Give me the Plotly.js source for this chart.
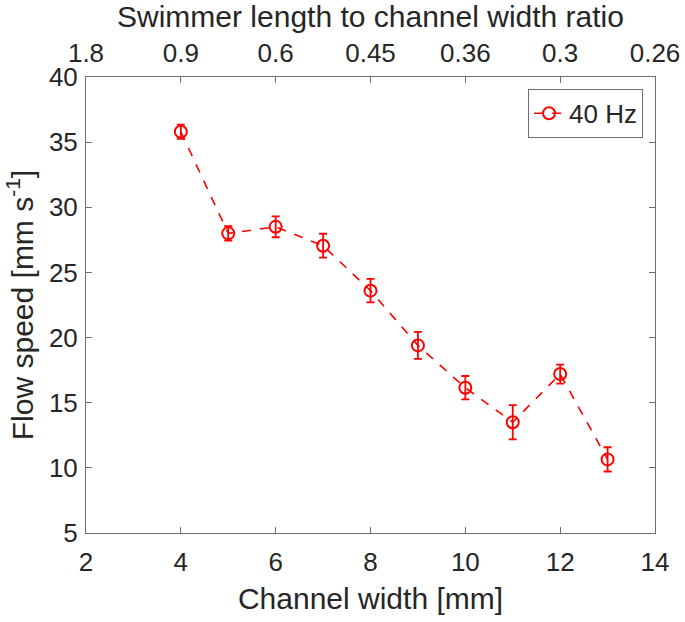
<!DOCTYPE html>
<html>
<head>
<script src="https://cdn.plot.ly/plotly-3.0.1.min.js"></script>
<style>body{margin:0;background:#fff}#chart{width:685px;height:622px}</style>
</head>
<body>
<div id="chart"></div>
<script>
const channelWidth = [4, 5, 6, 7, 8, 9, 10, 11, 12, 13];
const flowSpeed = [35.8, 28.0, 28.5, 27.05, 23.6, 19.4, 16.15, 13.5, 17.2, 10.65];
const flowErr = [0.55, 0.55, 0.8, 0.92, 0.9, 1.04, 0.9, 1.32, 0.73, 0.93];
const topTickVals = [2, 4, 6, 8, 10, 12, 14];
const topTickText = ['1.8', '0.9', '0.6', '0.45', '0.36', '0.3', '0.26'];
const seriesName = '40 Hz';

const red = '#ff0000';
const textColor = '#262626';
const axisColor = '#6e6e6e';
const fontFam = '"Liberation Sans", Arial, Helvetica, sans-serif';
const tickSize = 26;
const titleSize = 30;

const traces = [{
  x: channelWidth,
  y: flowSpeed,
  name: seriesName,
  type: 'scatter',
  mode: 'lines+markers',
  line: {color: red, width: 1.6, dash: 'dash'},
  marker: {symbol: 'circle-open', size: 12, color: red, line: {color: red, width: 2}},
  error_y: {type: 'data', array: flowErr, visible: true, color: red, thickness: 1.8, width: 4},
  xaxis: 'x', yaxis: 'y'
}, {
  x: topTickVals,
  y: topTickVals.map(() => null),
  xaxis: 'x2', yaxis: 'y',
  showlegend: false, hoverinfo: 'skip', mode: 'markers'
}];

const layout = {
  width: 685, height: 622,
  margin: {l: 86, r: 30, t: 77, b: 89},
  paper_bgcolor: '#fff', plot_bgcolor: '#fff',
  font: {family: fontFam, color: textColor, size: tickSize},
  showlegend: true,
  legend: {
    x: 0.979, y: 0.974, xanchor: 'right', yanchor: 'top',
    bgcolor: '#fff', bordercolor: axisColor, borderwidth: 1,
    font: {size: tickSize, color: textColor, family: fontFam},
    itemwidth: 30, tracegroupgap: 0
  },
  xaxis: {
    range: [2, 14], tickvals: [2, 4, 6, 8, 10, 12, 14],
    ticks: 'inside', ticklen: 6, tickcolor: axisColor, tickwidth: 1,
    showline: true, linecolor: axisColor, linewidth: 1, mirror: false,
    showgrid: false, zeroline: false, ticklabelstandoff: 6,
    tickfont: {size: tickSize, color: textColor},
    title: {text: 'Channel width [mm]', font: {size: titleSize, color: textColor}, standoff: 11}
  },
  xaxis2: {
    overlaying: 'x', side: 'top', anchor: 'y', matches: 'x',
    range: [2, 14], tickvals: topTickVals, ticktext: topTickText, tickmode: 'array',
    ticks: 'inside', ticklen: 6, tickcolor: axisColor, tickwidth: 1,
    showline: true, linecolor: axisColor, linewidth: 1,
    showgrid: false, zeroline: false, ticklabelstandoff: 4,
    tickfont: {size: tickSize, color: textColor},
    title: {text: 'Swimmer length to channel width ratio', font: {size: titleSize, color: textColor}, standoff: 7}
  },
  yaxis: {
    range: [5, 40], tickvals: [5, 10, 15, 20, 25, 30, 35, 40],
    ticks: 'inside', ticklen: 6, tickcolor: axisColor, tickwidth: 1,
    showline: true, linecolor: axisColor, linewidth: 1, mirror: 'ticks',
    showgrid: false, zeroline: false, ticklabelstandoff: 2,
    tickfont: {size: tickSize, color: textColor},
    title: {text: 'Flow speed [mm s<sup>-1</sup>]', font: {size: titleSize, color: textColor}, standoff: 6}
  }
};

Plotly.newPlot('chart', traces, layout, {displayModeBar: false, staticPlot: true});
</script>
</body>
</html>
